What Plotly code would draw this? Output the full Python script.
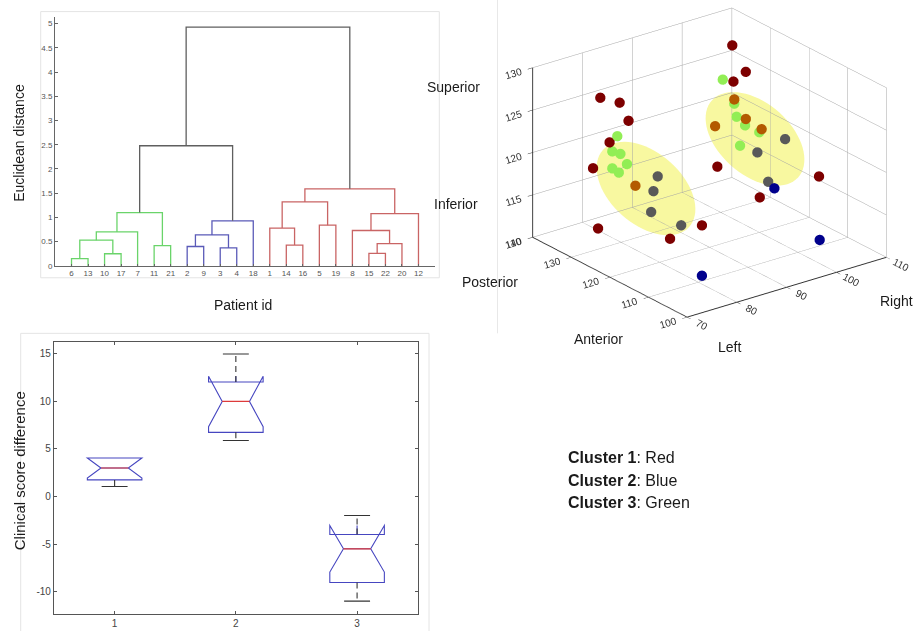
import numpy as np
import plotly.graph_objects as go

W, H = 917, 631


def px(x):
    return x / W


def py(y):
    return 1 - y / H


# ---------------- Dendrogram data ----------------
leaf_order = ["6", "13", "10", "17", "7", "11", "21", "2", "9", "3", "4", "18",
              "1", "14", "16", "5", "19", "8", "15", "22", "20", "12"]
merge_names = ["G1", "G2", "G3", "G4", "G5", "G6", "B1", "B2", "B3", "B4", "GB",
               "R1", "R2", "R3", "R4", "R5", "R6", "R7", "R8", "R9", "TOP"]
merge_left = ["6", "10", "G1", "G3", "11", "G4", "2", "3", "B1", "B3", "G6",
              "14", "1", "5", "R2", "15", "R5", "8", "R7", "R4", "GB"]
merge_right = ["13", "17", "G2", "7", "21", "G5", "9", "4", "B2", "18", "B4",
               "16", "R1", "19", "R3", "22", "20", "R6", "12", "R8", "R9"]
merge_height = [0.15, 0.25, 0.53, 0.70, 0.42, 1.10, 0.40, 0.37, 0.64, 0.93, 2.48,
                0.43, 0.78, 0.84, 1.32, 0.26, 0.46, 0.73, 1.08, 1.59, 4.93]
merge_cluster = ["green"] * 6 + ["blue"] * 4 + ["link"] + ["red"] * 9 + ["link"]

# ---------------- Box plot data ----------------
box_groups = [1, 2, 3]
box_q1 = [1.75, 6.75, -9.05]
box_median = [3.0, 10.0, -5.5]
box_q3 = [4.05, 12.05, -4.0]
box_notch = [1.05, 2.65, 2.45]
box_whisker_lo = [1.05, 5.9, -11.0]
box_whisker_hi = [4.05, 15.0, -2.0]
box_yticks = [-10, -5, 0, 5, 10, 15]
box_yticklabels = ["-10", "-5", "0", "5", "10", "15"]

# ---------------- 3D scatter data (Left-Right, Anterior-Posterior, Inferior-Superior) ----------------
darkred_x = [104, 104, 104, 80, 80, 80, 80, 78, 100, 108, 102, 78, 88, 84]
darkred_y = [132.2, 128.7, 131.9, 135.4, 130.4, 128.1, 133.0, 134.7, 130.9, 114.9, 122.5, 133.4, 119.4, 122.5]
darkred_z = [128.5, 126.2, 124.3, 125.8, 126.4, 124.8, 121.1, 118.0, 115.2, 116.4, 113.2, 111.2, 113.1, 111.5]

orange_x = [82, 98, 102, 102, 104]
orange_y = [128.9, 128.9, 129.1, 126.1, 124.6]
orange_z = [116.6, 120.8, 123.2, 121.6, 120.4]

green_x = [80, 80, 80, 80, 80, 80, 100, 102, 102, 102, 104, 102]
green_y = [131.0, 132.3, 130.2, 128.5, 132.3, 130.6, 129.5, 129.1, 128.5, 126.3, 125.2, 127.6]
green_z = [122.3, 120.2, 120.4, 119.6, 118.2, 118.1, 125.8, 122.7, 121.3, 120.8, 119.9, 118.1]

gray_x = [84, 84, 84, 86, 106, 104, 104]
gray_y = [125.7, 126.8, 127.4, 122.2, 121.1, 125.7, 122.9]
gray_z = [118.1, 116.1, 113.5, 112.8, 119.7, 117.4, 114.6]

blue_x = [104, 100, 80]
blue_y = [121.3, 104.4, 109.1]
blue_z = [114.2, 112.8, 111.0]

fig = go.Figure()

# ---------- dendrogram ----------
dendro_colors = {"green": "#6ad46a", "blue": "#5a5ab8", "red": "#c96464", "link": "#5f5f5f"}
pos = {lab: i + 1 for i, lab in enumerate(leaf_order)}
hgt = {lab: 0.0 for lab in leaf_order}
segs = {k: ([], []) for k in dendro_colors}
for name, l, r, h, c in zip(merge_names, merge_left, merge_right, merge_height, merge_cluster):
    xs, ys = segs[c]
    xs += [pos[l], pos[l], pos[r], pos[r], None]
    ys += [hgt[l], h, h, hgt[r], None]
    pos[name] = (pos[l] + pos[r]) / 2
    hgt[name] = h
for c, (xs, ys) in segs.items():
    fig.add_trace(go.Scatter(x=xs, y=ys, mode="lines", line=dict(color=dendro_colors[c], width=1.3),
                             xaxis="x", yaxis="y", hoverinfo="skip", showlegend=False))

# ---------- box plot ----------
fig.add_trace(go.Box(x=box_groups, q1=box_q1, median=box_median, q3=box_q3,
                     lowerfence=box_q1, upperfence=box_q3, notchspan=box_notch,
                     notched=True, notchwidth=0.25, width=0.45, whiskerwidth=0,
                     boxpoints=False, fillcolor="rgba(0,0,0,0)",
                     line=dict(color="#4646c0", width=1.1),
                     xaxis="x2", yaxis="y2", hoverinfo="skip", showlegend=False))
half_med = 0.45 / 2 * 0.5
cap = 0.107
wx, wy, cx, cy, mx, my = [], [], [], [], [], []
for g, q1, q3, lo, hi, med in zip(box_groups, box_q1, box_q3, box_whisker_lo, box_whisker_hi, box_median):
    if hi > q3:
        wx += [g, g, None]; wy += [q3, hi, None]
        cx += [g - cap, g + cap, None]; cy += [hi, hi, None]
    if lo < q1:
        wx += [g, g, None]; wy += [q1, lo, None]
        cx += [g - cap, g + cap, None]; cy += [lo, lo, None]
    mx += [g - half_med, g + half_med, None]; my += [med, med, None]
fig.add_trace(go.Scatter(x=wx, y=wy, mode="lines", line=dict(color="#333333", width=1.1, dash="6px,4px"),
                         xaxis="x2", yaxis="y2", hoverinfo="skip", showlegend=False))
fig.add_trace(go.Scatter(x=cx, y=cy, mode="lines", line=dict(color="#333333", width=1.1),
                         xaxis="x2", yaxis="y2", hoverinfo="skip", showlegend=False))
fig.add_trace(go.Scatter(x=mx, y=my, mode="lines", line=dict(color="#dd3b3b", width=1.2),
                         xaxis="x2", yaxis="y2", hoverinfo="skip", showlegend=False))

# ---------- 3D scatter ----------
for xs, ys, zs, col in [(darkred_x, darkred_y, darkred_z, "#7d0000"),
                        (orange_x, orange_y, orange_z, "#b35a00"),
                        (green_x, green_y, green_z, "#92ee55"),
                        (gray_x, gray_y, gray_z, "#595959"),
                        (blue_x, blue_y, blue_z, "#00008c")]:
    fig.add_trace(go.Scatter3d(x=xs, y=ys, z=zs, mode="markers",
                               marker=dict(size=6, color=col, line=dict(width=0)),
                               hoverinfo="skip", showlegend=False, scene="scene"))

ax3 = dict(showbackground=False, showgrid=True, gridcolor="rgb(165,165,165)", gridwidth=1,
           showline=True, linecolor="#333333", linewidth=2, zeroline=False, showspikes=False,
           ticks="outside", ticklen=6, tickcolor="#333333",
           tickfont=dict(size=11, color="#333333", family="Arial, Liberation Sans"), title=dict(text=""))

d = 2.0
k = 1.404
shift = 0.0895
cam_center = dict(x=-0.239 * shift, y=-0.313 * shift, z=-0.919 * shift)
eye = dict(x=-0.557 * d + cam_center["x"], y=-0.731 * d + cam_center["y"], z=0.394 * d + cam_center["z"])

fig.update_layout(
    width=W, height=H, margin=dict(l=0, r=0, t=0, b=0),
    paper_bgcolor="white", plot_bgcolor="rgba(0,0,0,0)", showlegend=False,
    font=dict(family="Arial, Liberation Sans", color="#222"),
    xaxis=dict(domain=[px(55), px(435)], range=[0, 23], tickvals=list(range(1, 23)), ticktext=leaf_order,
               ticks="inside", ticklen=2, tickcolor="#666", showline=True, linecolor="#666", linewidth=1,
               showgrid=False, zeroline=False, tickfont=dict(size=8, color="#555"), anchor="y"),
    yaxis=dict(domain=[py(268), py(17)], range=[0, 5.14], tickvals=[i * 0.5 for i in range(11)],
               ticks="inside", ticklen=3, tickcolor="#666", showline=True, linecolor="#666", linewidth=1,
               showgrid=False, zeroline=False, tickfont=dict(size=8, color="#555"), anchor="x"),
    xaxis2=dict(domain=[px(54), px(417.7)], range=[0.5, 3.5], tickvals=box_groups,
                ticks="inside", ticklen=3, tickcolor="#555", showline=True, mirror="ticks", linecolor="#555",
                linewidth=1.2, showgrid=False, zeroline=False, tickfont=dict(size=10, color="#444"), anchor="y2"),
    yaxis2=dict(domain=[py(619.3), py(344.3)], range=[-12.4, 16.3], tickvals=box_yticks, ticktext=box_yticklabels,
                ticks="inside", ticklen=3, tickcolor="#555", showline=True, mirror="ticks", linecolor="#555",
                linewidth=1.2, showgrid=False, zeroline=False, tickfont=dict(size=10, color="#444"), anchor="x2"),
    scene=dict(domain=dict(x=[px(502), 1.0], y=[py(360), 1.0]),
               xaxis=dict(ax3, range=[70, 110], tickvals=[70, 80, 90, 100, 110]),
               yaxis=dict(ax3, range=[100, 140], tickvals=[100, 110, 120, 130, 140]),
               zaxis=dict(ax3, range=[110, 130], tickvals=[110, 115, 120, 125, 130]),
               aspectmode="manual", aspectratio=dict(x=1 * k, y=1.017 * k, z=0.736 * k),
               camera=dict(eye=eye, up=dict(x=0, y=0, z=1), center=cam_center,
                           projection=dict(type="orthographic")),
               bgcolor="rgba(0,0,0,0)"),
)


def ellipse_path(cxp, cyp, a, b, deg):
    t = np.linspace(0, 2 * np.pi, 73)
    th = np.deg2rad(deg)
    xs = cxp + a * np.cos(t) * np.cos(th) - b * np.sin(t) * np.sin(th)
    ys = cyp + a * np.cos(t) * np.sin(th) + b * np.sin(t) * np.cos(th)
    pts = [f"{px(x):.5f},{py(y):.5f}" for x, y in zip(xs, ys)]
    return "M" + " L".join(pts) + " Z"


shapes = [
    dict(type="path", xref="paper", yref="paper", path=ellipse_path(646, 190, 58, 36, 42),
         fillcolor="#f8f8a0", line=dict(width=0), layer="below"),
    dict(type="path", xref="paper", yref="paper", path=ellipse_path(755, 140, 58, 36, 42),
         fillcolor="#f8f8a0", line=dict(width=0), layer="below"),
    dict(type="rect", xref="paper", yref="paper", x0=px(40.7), x1=px(439.3), y0=py(280), y1=py(11.7),
         line=dict(color="#e4e4e4", width=1), layer="below"),
    dict(type="rect", xref="paper", yref="paper", x0=px(20.7), x1=px(429), y0=py(640), y1=py(336),
         line=dict(color="#e4e4e4", width=1), layer="below"),
    dict(type="line", xref="paper", yref="paper", x0=px(497.5), x1=px(497.5), y0=py(336), y1=py(0),
         line=dict(color="#e8e8e8", width=1), layer="below"),
]

ann = []


def label(text, x, y, size=14, angle=0, xanchor="center"):
    ann.append(dict(text=text, x=px(x), y=py(y), xref="paper", yref="paper", showarrow=False,
                    font=dict(size=size, color="#1a1a1a", family="Arial, Liberation Sans"),
                    textangle=angle, xanchor=xanchor, yanchor="middle"))


label("Euclidean distance", 19, 144, angle=-90)
label("Patient id", 243, 307)
label("Clinical score difference", 19, 475, size=15, angle=-90)
label("Superior", 453.5, 88)
label("Inferior", 456, 206)
label("Posterior", 490, 284)
label("Anterior", 598.5, 342)
label("Left", 729, 350)
label("Right", 896.7, 303)
label("<b>Cluster 1</b>: Red", 566, 461, size=16, xanchor="left")
label("<b>Cluster 2</b>: Blue", 566, 484, size=16, xanchor="left")
label("<b>Cluster 3</b>: Green", 566, 507, size=16, xanchor="left")

fig.update_layout(shapes=shapes, annotations=ann)
fig.write_html("out.html", config={"displayModeBar": False},
               post_script="document.body.style.margin='0';document.body.style.overflow='hidden';")
